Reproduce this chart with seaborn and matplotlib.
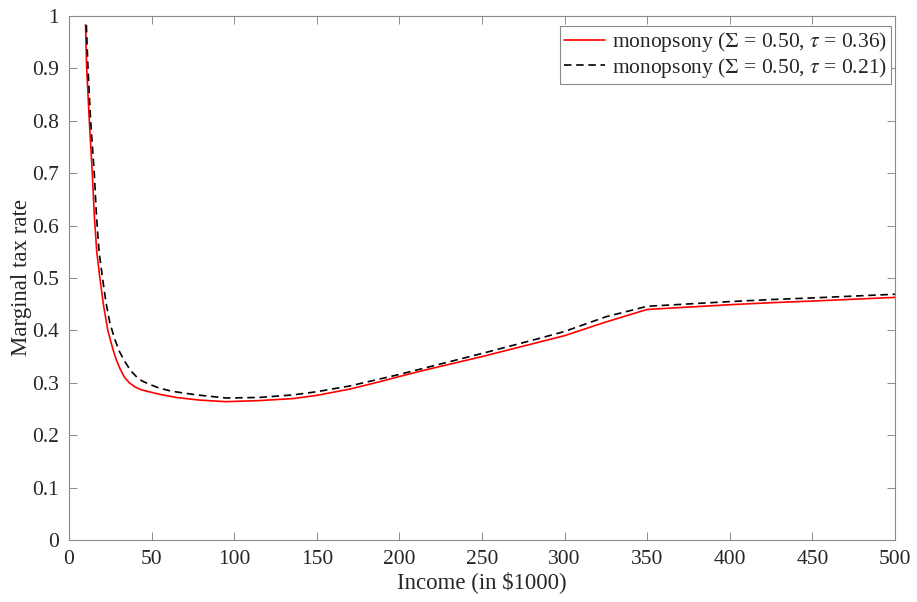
import numpy as np
import pandas as pd
import matplotlib
matplotlib.use("Agg")
import matplotlib.pyplot as plt
import seaborn as sns

# ---- data ----
income_red = [10, 10.7, 12.3, 14.1, 15.3, 16.8, 18.7, 20.8, 23.5, 26.5, 28.5, 31, 33.5, 36.5,
              40, 43.5, 47, 51, 55, 65, 79, 95, 115, 136, 150, 170, 188, 200, 215, 250, 285,
              300, 325, 350, 400, 426, 450, 500]
rate_red = [0.983, 0.9, 0.8, 0.7, 0.62, 0.55, 0.50, 0.45, 0.40, 0.365, 0.345, 0.326, 0.311, 0.300,
            0.292, 0.287, 0.284, 0.281, 0.278, 0.272, 0.267, 0.264, 0.266, 0.270, 0.276, 0.288,
            0.302, 0.312, 0.324, 0.350, 0.378, 0.390, 0.416, 0.440, 0.449, 0.453, 0.456, 0.463]

income_blk = [10.5, 11.5, 13.1, 15.3, 16.6, 18.2, 20.3, 22.3, 24.7, 27.5, 30.5, 33, 35.5, 38,
              41, 44, 48, 54.5, 62, 77, 95, 115, 136, 150, 170, 200, 250, 285, 300, 325,
              350, 400, 426, 450, 500]
rate_blk = [0.983, 0.9, 0.8, 0.7, 0.62, 0.55, 0.50, 0.455, 0.415, 0.385, 0.36, 0.345, 0.332, 0.321,
            0.311, 0.304, 0.298, 0.290, 0.284, 0.277, 0.271, 0.272, 0.277, 0.283, 0.294, 0.316,
            0.356, 0.385, 0.398, 0.426, 0.446, 0.455, 0.459, 0.462, 0.469]

label_red = r"monopsony ($\Sigma$ = 0.50, $\tau$ = 0.36)"
label_blk = r"monopsony ($\Sigma$ = 0.50, $\tau$ = 0.21)"

x_ticks = [0, 50, 100, 150, 200, 250, 300, 350, 400, 450, 500]
y_ticks = [0, 0.1, 0.2, 0.3, 0.4, 0.5, 0.6, 0.7, 0.8, 0.9, 1]
y_ticklabels = ["0", "0.1", "0.2", "0.3", "0.4", "0.5", "0.6", "0.7", "0.8", "0.9", "1"]

# ---- style ----
sns.set_style("white")
plt.rcParams["font.family"] = ["Liberation Serif", "DejaVu Serif"]
plt.rcParams["mathtext.fontset"] = "stix"

fig = plt.figure(figsize=(9.17, 6.02), dpi=100)
ax = fig.add_axes([69 / 917, 1 - 540 / 602, (895 - 69) / 917, (540 - 16) / 602])

df_red = pd.DataFrame({"Income": income_red, "Rate": rate_red})
df_blk = pd.DataFrame({"Income": income_blk, "Rate": rate_blk})

sns.lineplot(data=df_red, x="Income", y="Rate", ax=ax, color="#ff0000",
             linewidth=1.2, label=label_red, sort=False)
sns.lineplot(data=df_blk, x="Income", y="Rate", ax=ax, color="black",
             linewidth=1.2, label=label_blk, sort=False)
ax.lines[1].set_dashes([4.5, 2.8])

ax.set_xlim(0, 500)
ax.set_ylim(0, 1)
ax.set_xticks(x_ticks)
ax.set_yticks(y_ticks)
ax.set_yticklabels(y_ticklabels)

txtcol = "#262626"
framecol = "#8a8a8a"
for s in ax.spines.values():
    s.set_visible(True)
    s.set_color(framecol)
    s.set_linewidth(0.8)
ax.tick_params(direction="in", length=6, width=0.7, color=framecol,
               labelcolor=txtcol, labelsize=15.5, top=True, right=True,
               bottom=True, left=True)
ax.tick_params(axis="x", pad=7)
ax.tick_params(axis="y", pad=7)

ax.set_xlabel("Income (in $1000)", fontsize=16.5, color=txtcol, labelpad=2)
ax.set_ylabel("Marginal tax rate", fontsize=16.5, color=txtcol, labelpad=0)

leg = ax.legend(loc="upper right", bbox_to_anchor=((891 - 69) / 826, (540 - 26) / 524),
                fontsize=15.5, frameon=True, fancybox=False,
                edgecolor=framecol, framealpha=1, handlelength=1.9,
                handletextpad=0.3, borderpad=0.2, labelspacing=0.08,
                borderaxespad=0.0)
leg.get_frame().set_linewidth(0.8)
for t in leg.get_texts():
    t.set_color(txtcol)

fig.savefig("out.png", dpi=100)
